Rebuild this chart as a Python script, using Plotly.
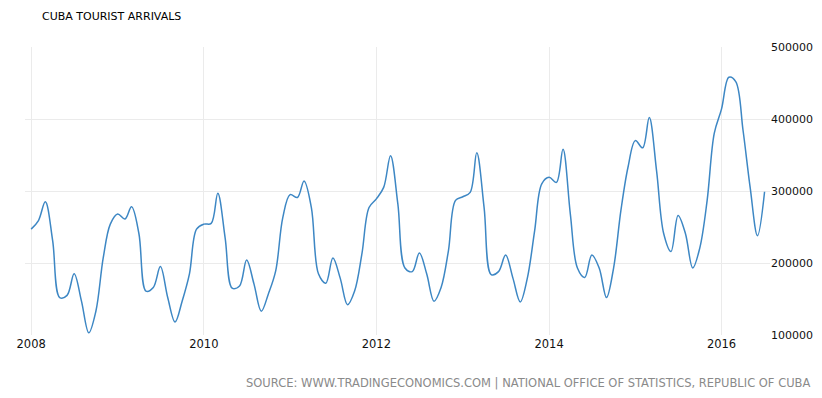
import plotly.graph_objects as go
import pandas as pd

dates = pd.date_range("2008-01-01", "2016-07-01", freq="MS")
arrivals = [
    # 2008
    247000, 259000, 285000, 231000, 152000, 155000, 185000, 147000, 103000, 133000, 207000, 254000,
    # 2009
    268000, 261000, 278000, 241000, 161000, 166000, 195000, 152000, 118000, 147000, 185000, 247000,
    # 2010
    254000, 255000, 297000, 235000, 165000, 168000, 204000, 171000, 133000, 157000, 189000, 263000,
    # 2011
    295000, 291000, 314000, 277000, 185000, 172000, 207000, 179000, 142000, 161000, 213000, 277000,
    # 2012
    289000, 305000, 349000, 282000, 193000, 188000, 214000, 185000, 147000, 166000, 217000, 287000,
    # 2013
    292000, 298000, 353000, 277000, 184000, 188000, 211000, 179000, 146000, 179000, 245000, 310000,
    # 2014
    319000, 312000, 358000, 268000, 193000, 180000, 211000, 193000, 152000, 193000, 273000, 333000,
    # 2015
    370000, 360000, 402000, 328000, 241000, 216000, 266000, 241000, 193000, 221000, 287000, 380000,
    # 2016
    414000, 458000, 452000, 384000, 305000, 238000, 299000,
]
x_ticks = ["2008-01-01", "2010-01-01", "2012-01-01", "2014-01-01", "2016-01-01"]
x_tick_labels = ["2008", "2010", "2012", "2014", "2016"]
y_ticks = [100000, 200000, 300000, 400000, 500000]

fig = go.Figure()
fig.add_trace(go.Scatter(
    x=dates, y=arrivals, mode="lines",
    line=dict(color="#3d87c4", width=1.5, shape="spline", smoothing=1.0),
    hoverinfo="x+y", showlegend=False,
))

font_main = "Verdana, DejaVu Sans, sans-serif"
L, R, T, B = 25, 52, 47, 63
PW, PH = 822 - L - R, 398 - T - B
fig.update_layout(
    width=822, height=398,
    margin=dict(l=L, r=R, t=T, b=B, autoexpand=False),
    paper_bgcolor="white", plot_bgcolor="white",
    font=dict(family=font_main, size=11, color="#222"),
    xaxis=dict(
        range=["2007-12-06", "2016-07-24"], automargin=False,
        tickvals=x_ticks, ticktext=x_tick_labels,
        showgrid=True, gridcolor="#ebebeb", gridwidth=1,
        zeroline=False, showline=False, ticks="",
        tickfont=dict(family=font_main, size=11.5, color="#111"),
    ),
    yaxis=dict(
        range=[100000, 500000], side="right", automargin=False,
        tickvals=y_ticks, ticktext=[str(v) for v in y_ticks],
        showgrid=True, gridcolor="#ebebeb", gridwidth=1,
        zeroline=False, showline=False, ticks="",
        tickfont=dict(family=font_main, size=11, color="#111"),
    ),
    annotations=[
        dict(text="CUBA TOURIST ARRIVALS", xref="paper", yref="paper",
             x=(40 - L) / PW, y=1 + (T - 17) / PH, xanchor="left", yanchor="middle",
             showarrow=False, font=dict(family=font_main, size=11, color="#000")),
        dict(text="SOURCE: WWW.TRADINGECONOMICS.COM | NATIONAL OFFICE OF STATISTICS, REPUBLIC OF CUBA",
             xref="paper", yref="paper",
             x=(812 - L) / PW, y=-(383 - (T + PH)) / PH, xanchor="right", yanchor="middle",
             showarrow=False, font=dict(family=font_main, size=11.5, color="#8a8a8a")),
    ],
)

fig.write_html("out.html")
